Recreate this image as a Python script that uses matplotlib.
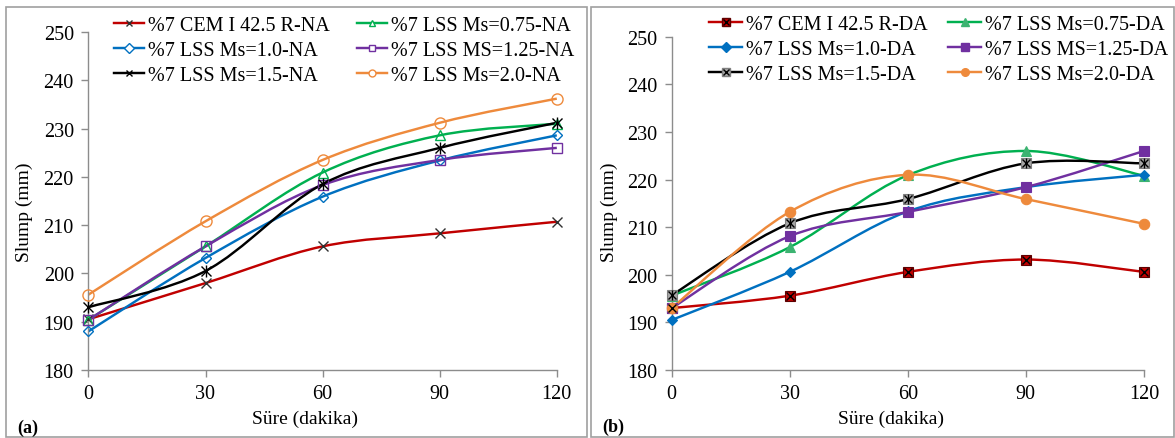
import matplotlib.pyplot as plt
from matplotlib.path import Path
from matplotlib.patches import PathPatch, Rectangle
from matplotlib.lines import Line2D

plt.rcParams['font.family'] = ['Liberation Serif', 'DejaVu Serif']

# data (slump in mm over time in minutes)
sure = [0, 30, 60, 90, 120]

na_labels = ['%7 CEM I 42.5 R-NA', '%7 LSS Ms=0.75-NA', '%7 LSS Ms=1.0-NA',
             '%7 LSS MS=1.25-NA', '%7 LSS Ms=1.5-NA', '%7 LSS Ms=2.0-NA']
na_cem = [190.5, 198.0, 205.6, 208.3, 210.7]
na_075 = [190.4, 205.6, 220.9, 228.6, 231.0]
na_100 = [188.0, 203.2, 215.9, 223.4, 228.6]
na_125 = [190.4, 205.6, 218.3, 223.5, 226.0]
na_150 = [193.0, 200.5, 218.5, 226.0, 231.2]
na_200 = [195.6, 210.8, 223.5, 231.2, 236.2]

da_labels = ['%7 CEM I 42.5 R-DA', '%7 LSS Ms=0.75-DA', '%7 LSS Ms=1.0-DA',
             '%7 LSS MS=1.25-DA', '%7 LSS Ms=1.5-DA', '%7 LSS Ms=2.0-DA']
da_cem = [193.0, 195.6, 200.6, 203.2, 200.6]
da_075 = [195.6, 205.8, 220.9, 226.0, 220.8]
da_100 = [190.5, 200.6, 213.3, 218.4, 221.0]
da_125 = [193.0, 208.1, 213.2, 218.4, 226.0]
da_150 = [195.7, 210.8, 215.9, 223.4, 223.4]
da_200 = [193.0, 213.2, 221.0, 215.9, 210.7]

colors = ['#c00000', '#00b050', '#0070c0', '#7030a0', '#000000', '#ee8a3c']


def smooth_path(x, y):
    # Excel-like smoothed line: Catmull-Rom segments as cubic Bezier curves
    px = [x[0]] + list(x) + [x[-1]]
    py = [y[0]] + list(y) + [y[-1]]
    verts = [(x[0], y[0])]
    codes = [Path.MOVETO]
    for i in range(1, len(px) - 2):
        c1 = (px[i] + (px[i + 1] - px[i - 1]) / 6, py[i] + (py[i + 1] - py[i - 1]) / 6)
        c2 = (px[i + 1] - (px[i + 2] - px[i]) / 6, py[i + 1] - (py[i + 2] - py[i]) / 6)
        verts += [c1, c2, (px[i + 1], py[i + 1])]
        codes += [Path.CURVE4] * 3
    return Path(verts, codes)


fig = plt.figure(figsize=(11.75, 4.39), dpi=100)

# panel frames
for x0, x1 in [(5.5, 587), (591, 1173.5)]:
    fig.patches.append(Rectangle((x0 / 1175, 1 / 439), (x1 - x0) / 1175, 430 / 439,
                                 transform=fig.transFigure, fill=False,
                                 edgecolor='#a0a0a0', linewidth=1.2))

ax1 = fig.add_axes([88.4 / 1175, 68 / 439, 468.4 / 1175, 338 / 439])
ax2 = fig.add_axes([671.6 / 1175, 68 / 439, 472.3 / 1175, 333.3 / 439])

LW = 1.75

# left panel: open markers
na_series = [na_cem, na_075, na_100, na_125, na_150, na_200]
na_markers = [('x', 7), ('^', 7), ('D', 5.5), ('s', 7), ('x', 7), ('o', 8)]
na_handles = []
for ys, col, (mk, ms) in zip(na_series, colors, na_markers):
    ax1.add_patch(PathPatch(smooth_path(sure, ys), fill=False, edgecolor=col,
                            linewidth=LW, zorder=2))
    if mk == 'x':
        xc = '#303030' if col == '#c00000' else col
        ax1.plot(sure, ys, linestyle='none', marker='x', ms=ms, mec=xc,
                 mew=1.0, clip_on=False, zorder=3)
        if col == '#000000':
            ax1.plot(sure, ys, linestyle='none', marker='|', ms=ms + 1, mec=col,
                     mew=1.0, clip_on=False, zorder=3)
        h = Line2D([], [], color=col, lw=LW, marker='x', ms=5, mew=1.0, mec=xc)
    else:
        ax1.plot(sure, ys, linestyle='none', marker=mk, ms=ms, mfc='none', mec=col,
                 mew=1.0, clip_on=False, zorder=3)
        h = Line2D([], [], color=col, lw=LW, marker=mk, ms=5, mfc='white', mec=col, mew=1.0)
    na_handles.append(h)

# right panel: filled markers
da_series = [da_cem, da_075, da_100, da_125, da_150, da_200]
da_handles = []
for i, (ys, col) in enumerate(zip(da_series, colors)):
    ax2.add_patch(PathPatch(smooth_path(sure, ys), fill=False, edgecolor=col,
                            linewidth=LW, zorder=2))
    if i in (0, 4):
        fc, ec = (col, '#600000') if i == 0 else ('#a6a6a6', '#808080')
        ax2.plot(sure, ys, linestyle='none', marker='s', ms=7.5, mfc=fc, mec=ec,
                 mew=0.8, clip_on=False, zorder=3)
        ax2.plot(sure, ys, linestyle='none', marker='x', ms=6, mec='black',
                 mew=1.0, clip_on=False, zorder=4)
        if i == 4:
            ax2.plot(sure, ys, linestyle='none', marker='|', ms=7, mec='black',
                     mew=1.0, clip_on=False, zorder=4)
        h = (Line2D([], [], color=col, lw=LW, marker='s', ms=6, mfc=fc, mec=ec),
             Line2D([], [], ls='none', marker='x', ms=5, mec='black'))
    else:
        mk, ms = {1: ('^', 7.5), 2: ('D', 5.5), 3: ('s', 7.5), 5: ('o', 7.5)}[i]
        fc = '#3cb371' if i == 1 else col
        ax2.plot(sure, ys, linestyle='none', marker=mk, ms=ms, mfc=fc, mec=fc,
                 mew=0.8, clip_on=False, zorder=3)
        h = Line2D([], [], color=col, lw=LW, marker=mk, ms=5.5, mfc=fc, mec=fc)
    da_handles.append(h)

for ax in (ax1, ax2):
    ax.set_xlim(0, 120)
    ax.set_ylim(180, 250)
    ax.set_xticks(sure)
    ax.set_yticks(range(180, 251, 10))
    for s in ('top', 'right'):
        ax.spines[s].set_visible(False)
    for s in ('left', 'bottom'):
        ax.spines[s].set_color('#8c8c8c')
        ax.spines[s].set_linewidth(1.0)
    ax.tick_params(axis='both', direction='out', length=5, width=1.0, color='#8c8c8c',
                   labelsize=14.5, labelcolor='black')
    ax.tick_params(axis='y', pad=5.5)
    ax.tick_params(axis='x', pad=5)
    ax.patch.set_alpha(0)

order = [0, 2, 4, 1, 3, 5]
fig.legend([na_handles[k] for k in order], [na_labels[k] for k in order],
           loc='upper left', bbox_to_anchor=(114 / 1175, 1 - 17 / 439), ncol=2,
           frameon=False, fontsize=14.5, borderpad=0, borderaxespad=0, handlelength=1.5,
           handletextpad=0.2, columnspacing=1.35, labelspacing=0.29)
fig.legend([da_handles[k] for k in order], [da_labels[k] for k in order],
           loc='upper left', bbox_to_anchor=(709 / 1175, 1 - 16 / 439), ncol=2,
           frameon=False, fontsize=14.5, borderpad=0, borderaxespad=0, handlelength=1.65,
           handletextpad=0.2, columnspacing=1.0, labelspacing=0.29)

fig.text(24 / 1175, 1 - 212 / 439, 'Slump (mm)', rotation=90, ha='center', va='center', fontsize=14)
fig.text(609 / 1175, 1 - 212 / 439, 'Slump (mm)', rotation=90, ha='center', va='center', fontsize=14)
fig.text(305 / 1175, 1 - 419 / 439, 'Süre (dakika)', ha='center', va='center', fontsize=14)
fig.text(891 / 1175, 1 - 419 / 439, 'Süre (dakika)', ha='center', va='center', fontsize=14)
fig.text(17 / 1175, 1 - 428 / 439, '(a)', ha='left', va='center', fontsize=13, fontweight='bold')
fig.text(602 / 1175, 1 - 427 / 439, '(b)', ha='left', va='center', fontsize=13, fontweight='bold')

fig.savefig('out.png', dpi=100)
